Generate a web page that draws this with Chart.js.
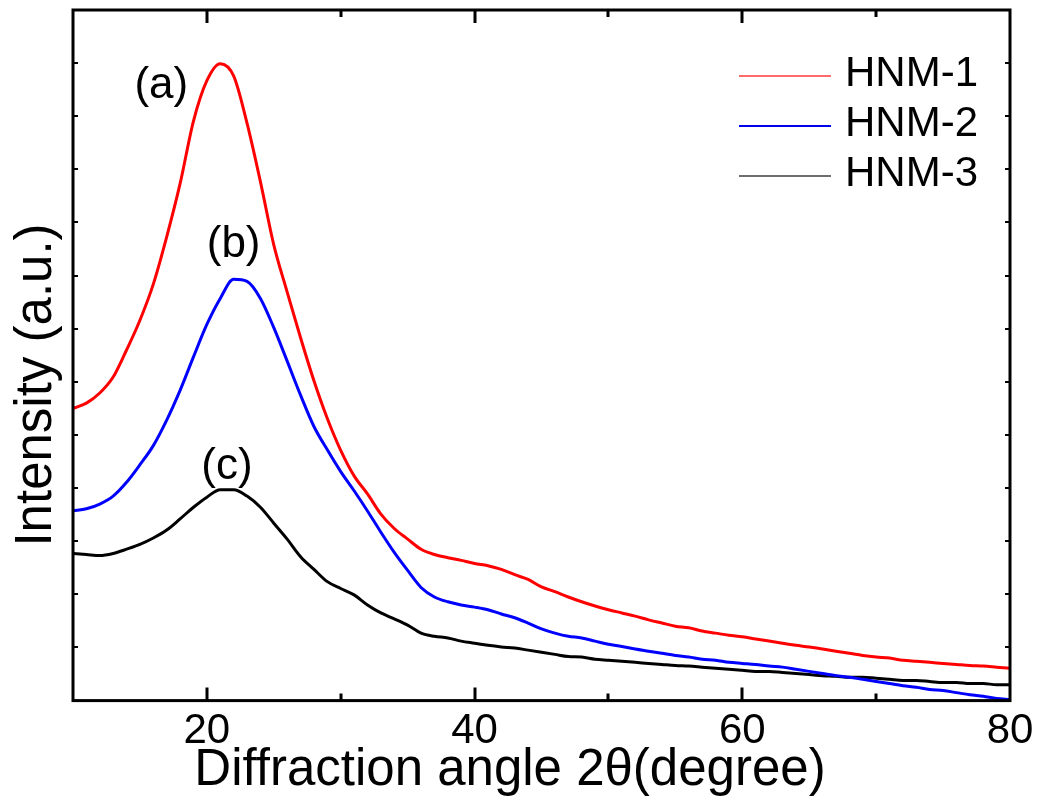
<!DOCTYPE html>
<html lang="en">
<head>
<meta charset="UTF-8">
<title>XRD HNM</title>
<script src="https://cdn.jsdelivr.net/npm/chart.js"></script>
<style>
  html, body { margin: 0; padding: 0; background: #fff; }
  #wrap { width: 1039px; height: 801px; }
</style>
</head>
<body>
<div id="wrap"><canvas id="myChart"></canvas></div>
<script>
// 2theta (degree)
const angles = [10, 11, 12, 13, 14, 15, 16, 17, 18, 19,
  20, 21, 22, 23, 24, 25, 26, 27, 28, 29,
  30, 31, 32, 33, 34, 35, 36, 37, 38, 39,
  40, 41, 42, 43, 44, 45, 46, 47, 48, 49,
  50, 51, 52, 53, 54, 55, 56, 57, 58, 59,
  60, 61, 62, 63, 64, 65, 66, 67, 68, 69,
  70, 71, 72, 73, 74, 75, 76, 77, 78, 79, 80];

// intensity (a.u.)
const hnm1 = [5.50, 5.60, 5.79, 6.09, 6.60, 7.16, 7.84, 8.73, 9.73, 10.91,
  11.67, 11.99, 11.76, 10.87, 9.77, 8.58, 7.69, 6.83, 6.02, 5.31,
  4.71, 4.23, 3.89, 3.51, 3.24, 3.04, 2.85, 2.75, 2.69, 2.64,
  2.58, 2.54, 2.47, 2.37, 2.28, 2.14, 2.05, 1.95, 1.86, 1.78,
  1.71, 1.65, 1.59, 1.52, 1.46, 1.40, 1.37, 1.31, 1.27, 1.23,
  1.20, 1.16, 1.12, 1.08, 1.04, 1.01, 0.97, 0.93, 0.89, 0.85,
  0.82, 0.80, 0.76, 0.74, 0.72, 0.70, 0.68, 0.66, 0.65, 0.63, 0.61];

const hnm2 = [3.57, 3.61, 3.70, 3.85, 4.11, 4.44, 4.80, 5.28, 5.84, 6.47,
  7.08, 7.57, 7.93, 7.89, 7.57, 7.02, 6.39, 5.75, 5.16, 4.72,
  4.31, 3.95, 3.57, 3.17, 2.79, 2.45, 2.13, 1.95, 1.86, 1.80,
  1.76, 1.71, 1.63, 1.56, 1.46, 1.35, 1.27, 1.21, 1.18, 1.12,
  1.06, 1.02, 0.97, 0.93, 0.89, 0.85, 0.82, 0.78, 0.76, 0.72,
  0.70, 0.68, 0.65, 0.63, 0.59, 0.55, 0.51, 0.47, 0.44, 0.40,
  0.36, 0.32, 0.28, 0.25, 0.21, 0.19, 0.15, 0.11, 0.08, 0.04, 0.02];

const hnm3 = [2.77, 2.75, 2.73, 2.77, 2.85, 2.94, 3.06, 3.21, 3.42, 3.64,
  3.83, 3.97, 3.97, 3.85, 3.64, 3.34, 3.04, 2.71, 2.47, 2.24,
  2.11, 1.99, 1.80, 1.65, 1.54, 1.42, 1.27, 1.21, 1.18, 1.12,
  1.08, 1.04, 1.01, 0.99, 0.95, 0.91, 0.87, 0.83, 0.82, 0.78,
  0.76, 0.74, 0.72, 0.70, 0.68, 0.66, 0.65, 0.63, 0.61, 0.59,
  0.57, 0.55, 0.55, 0.53, 0.51, 0.49, 0.47, 0.46, 0.44, 0.44,
  0.42, 0.40, 0.38, 0.38, 0.36, 0.34, 0.34, 0.32, 0.32, 0.30, 0.30];

const seriesNames = ['HNM-1', 'HNM-2', 'HNM-3'];
const curveTags = ['(a)', '(b)', '(c)'];
const xLabels = [20, 40, 60, 80];

// label spots for (a) (b) (c), in data units
const tagSpots = [[16.6, 11.57], [22.0, 8.58], [21.5, 4.40]];

const colors = ['#ff0000', '#0000ff', '#000000'];
const legendColors = ['#ff6b6b', '#0000ee', '#6e6e6e'];
const FONT = 'Liberation Sans, Arial, sans-serif';

function toPoints(vals) {
  return angles.map(function (a, i) { return { x: a, y: vals[i] }; });
}

const framePlugin = {
  id: 'frame',
  afterDraw(chart) {
    const ctx = chart.ctx;
    const a = chart.chartArea;
    const xs = chart.scales.x;
    const ys = chart.scales.y;
    ctx.save();
    ctx.strokeStyle = '#000';
    ctx.lineWidth = 3;
    ctx.strokeRect(a.left, a.top, a.right - a.left, a.bottom - a.top);

    // inward ticks, bottom and top
    ctx.lineWidth = 3;
    [20, 30, 40, 50, 60, 70].forEach(function (v) {
      const len = (v % 20 === 0) ? 13 : 7;
      const px = Math.round(xs.getPixelForValue(v));
      ctx.beginPath();
      ctx.moveTo(px, a.bottom);
      ctx.lineTo(px, a.bottom - len);
      ctx.moveTo(px, a.top);
      ctx.lineTo(px, a.top + len);
      ctx.stroke();
    });
    // inward ticks, left and right
    ctx.lineWidth = 2;
    for (let v = 1; v <= 12; v++) {
      const py = Math.round(ys.getPixelForValue(v));
      ctx.beginPath();
      ctx.moveTo(a.left, py);
      ctx.lineTo(a.left + 5, py);
      ctx.moveTo(a.right, py);
      ctx.lineTo(a.right - 5, py);
      ctx.stroke();
    }

    ctx.fillStyle = '#000';
    // curve tags
    ctx.font = '44px ' + FONT;
    ctx.textAlign = 'center';
    ctx.textBaseline = 'middle';
    tagSpots.forEach(function (s, i) {
      ctx.fillText(curveTags[i], xs.getPixelForValue(s[0]), ys.getPixelForValue(s[1]));
    });

    // legend
    ctx.textAlign = 'left';
    ctx.font = '42px ' + FONT;
    seriesNames.forEach(function (name, i) {
      const ly = 76 + i * 50;
      ctx.strokeStyle = legendColors[i];
      ctx.lineWidth = 2;
      ctx.beginPath();
      ctx.moveTo(739, ly);
      ctx.lineTo(831, ly);
      ctx.stroke();
      ctx.fillText(name, 845, ly - 2);
    });

    // axis titles
    ctx.font = '51px ' + FONT;
    ctx.textAlign = 'center';
    ctx.textBaseline = 'alphabetic';
    ctx.fillText('Diffraction angle 2\u03B8(degree)', 510, 785);
    ctx.save();
    ctx.translate(51, 385);
    ctx.rotate(-Math.PI / 2);
    ctx.fillText('Intensity (a.u.)', 0, 0);
    ctx.restore();
    ctx.restore();
  }
};

new Chart(document.getElementById('myChart'), {
  type: 'line',
  data: {
    datasets: [
      { label: seriesNames[0], data: toPoints(hnm1), borderColor: colors[0] },
      { label: seriesNames[1], data: toPoints(hnm2), borderColor: colors[1] },
      { label: seriesNames[2], data: toPoints(hnm3), borderColor: colors[2] }
    ]
  },
  options: {
    responsive: true,
    maintainAspectRatio: false,
    animation: false,
    layout: { padding: { left: 73, right: 29, top: 10, bottom: 38 } },
    elements: {
      point: { radius: 0 },
      line: { borderWidth: 3, cubicInterpolationMode: 'monotone' }
    },
    plugins: {
      legend: { display: false },
      tooltip: { enabled: false }
    },
    scales: {
      x: {
        type: 'linear',
        min: 10,
        max: 80,
        grid: { display: false, drawTicks: false },
        border: { display: false },
        afterBuildTicks: function (scale) {
          scale.ticks = xLabels.map(function (v) { return { value: v }; });
        },
        afterFit: function (scale) {
          // let the "80" label hang past the frame like the original
          scale.paddingRight = 0;
          scale.paddingLeft = 0;
        },
        ticks: {
          padding: 6,
          color: '#000',
          maxRotation: 0,
          font: { family: FONT, size: 42 }
        }
      },
      y: {
        display: false,
        min: 0,
        max: 13
      }
    }
  },
  plugins: [framePlugin]
});
</script>
</body>
</html>
